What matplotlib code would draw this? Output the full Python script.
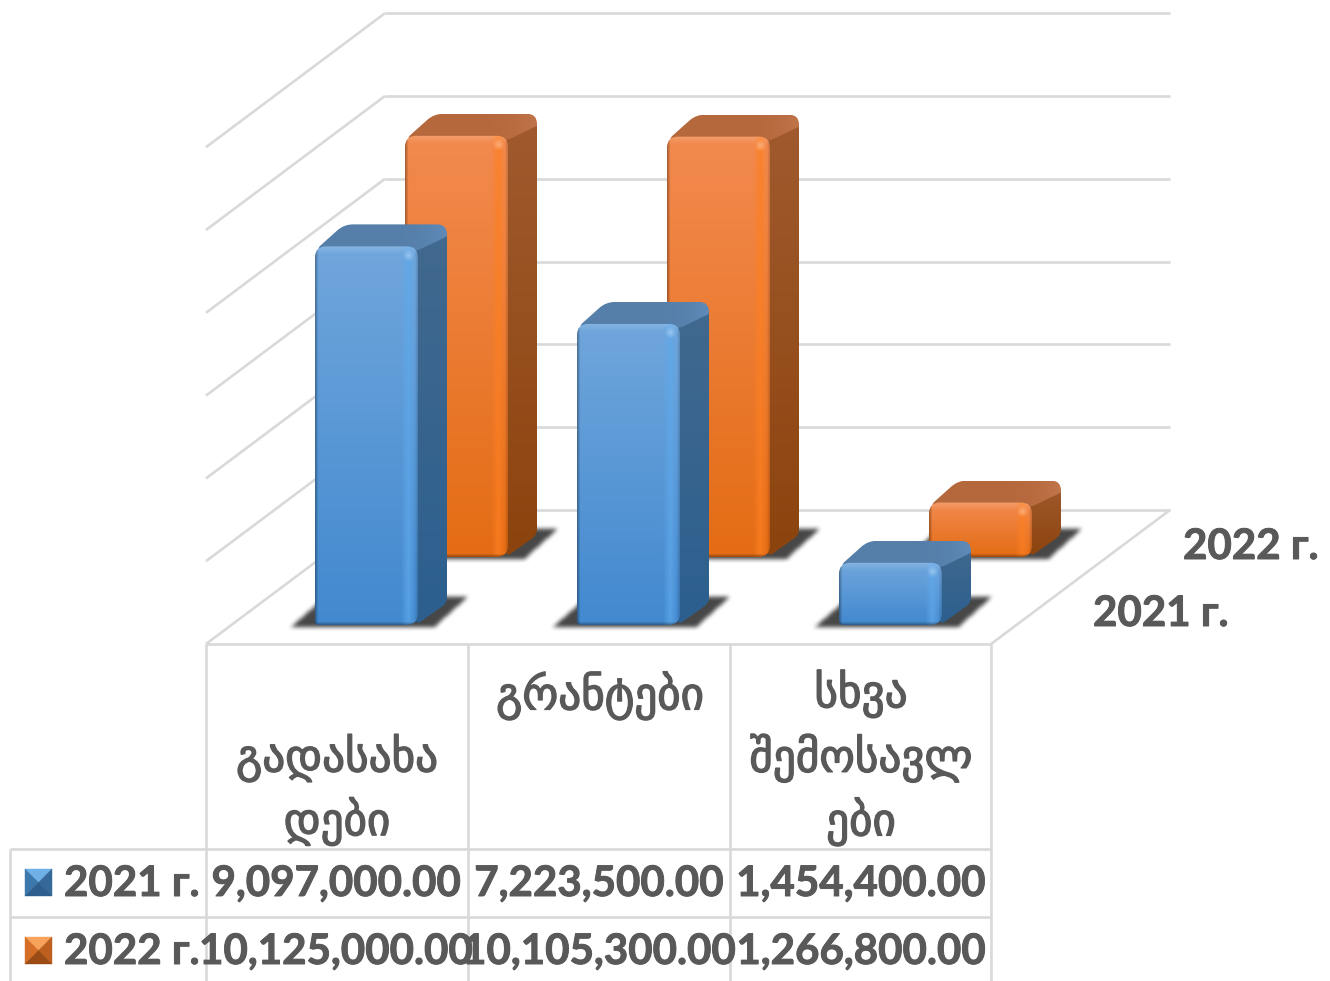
import numpy as np
import matplotlib
matplotlib.use("Agg")
import matplotlib.pyplot as plt
import matplotlib.patheffects as pe
from matplotlib.path import Path
from matplotlib.patches import PathPatch, Polygon

categories = ["გადასახა\nდები", "გრანტები", "სხვა\nშემოსავლ\nები"]
series_names = ["2021 г.", "2022 г."]
values_2021 = [9097000.00, 7223500.00, 1454400.00]
values_2022 = [10125000.00, 10105300.00, 1266800.00]
grid_ticks = [0, 2000000, 4000000, 6000000, 8000000, 10000000, 12000000]

W, H = 1330, 981
PX_PER_UNIT = 4.14e-5
BASE_PX = 625
GRID = "#d9d9d9"
TEXT = "#595959"
NUM_FONT = ["Lato", "Open Sans", "DejaVu Sans"]
NUM_SIZE = 30.3
THICK = [pe.withStroke(linewidth=0.7, foreground=TEXT)]
THICK_GEO = [pe.withStroke(linewidth=1.0, foreground=TEXT)]

BLUE = dict(top="#70a6dc", bottom="#4289cf", hi="#5ea8ea", side_top="#42698f", side_bottom="#2c5f8e",
            cap="#557ea9", cap_hi="#5f8ab8", key=["#6fb0e8", "#3d78ad", "#35699a", "#2e5f8c"])
ORANGE = dict(top="#f28a4f", bottom="#e46c14", hi="#fd7f22", side_top="#a05a2e", side_bottom="#8c440e",
              cap="#b5683c", cap_hi="#c0744a", key=["#f7a35c", "#d56f28", "#bd5f1e", "#9a4c14"])

fig = plt.figure(figsize=(W / 100, H / 100), dpi=100, facecolor="white")
ax = fig.add_axes([0, 0, 1, 1])
ax.set_xlim(0, W)
ax.set_ylim(-(H - BASE_PX) / PX_PER_UNIT, BASE_PX / PX_PER_UNIT)
ax.axis("off")


def to_y(px):
    return (BASE_PX - px) / PX_PER_UNIT


def hex_rgb(c):
    return np.array(matplotlib.colors.to_rgb(c))


def rounded_path(pts, radii):
    # pts are pixel corners, the corners get cut with a quadratic curve
    pts = [np.array(p, dtype=float) for p in pts]
    verts, codes = [], []
    n = len(pts)
    for i in range(n):
        p, a, b = pts[i], pts[i - 1], pts[(i + 1) % n]
        r = radii[i]
        d1 = (a - p) / np.linalg.norm(a - p)
        d2 = (b - p) / np.linalg.norm(b - p)
        p1, p2 = p + d1 * r, p + d2 * r
        verts.append(p1)
        codes.append(Path.MOVETO if i == 0 else Path.LINETO)
        verts += [p, p2]
        codes += [Path.CURVE3, Path.CURVE3]
    verts.append(verts[0])
    codes.append(Path.CLOSEPOLY)
    verts = np.array(verts)
    verts[:, 1] = to_y(verts[:, 1])
    return Path(verts, codes)


def shaded(path, img, box, z):
    # box is x0, x1, top px, bottom px
    im = ax.imshow(img, extent=(box[0], box[1], to_y(box[3]), to_y(box[2])), origin="upper",
                   aspect="auto", zorder=z, interpolation="bilinear")
    patch = PathPatch(path, transform=ax.transData, facecolor="none", edgecolor="none", zorder=z)
    ax.add_patch(patch)
    im.set_clip_path(patch)


def draw_shadow(x0, base, z):
    pts = [(x0 - 24, base + 2), (x0 + 3, base - 22), (x0 + 130, base - 29), (x0 + 154, base - 29), (x0 + 120, base + 2)]
    xs = np.arange(x0 - 45, x0 + 180)
    ys = np.arange(base - 50, base + 14)
    gx, gy = np.meshgrid(xs, ys)
    mask = Path(pts).contains_points(np.c_[gx.ravel(), gy.ravel()]).reshape(gx.shape).astype(float)
    kernel = np.ones(5) / 5
    for _ in range(2):
        mask = np.apply_along_axis(lambda r: np.convolve(r, kernel, mode="same"), 0, mask)
        mask = np.apply_along_axis(lambda r: np.convolve(r, kernel, mode="same"), 1, mask)
    rgba = np.zeros(gx.shape + (4,))
    rgba[..., :3] = 0.24
    rgba[..., 3] = mask * 0.95
    ax.imshow(rgba, extent=(xs[0], xs[-1], to_y(ys[-1]), to_y(ys[0])), origin="upper", aspect="auto", zorder=z,
              interpolation="bilinear")


def draw_bar(x0, base, value, col, z, width=103, dx=29, dy=22):
    height = value * PX_PER_UNIT + 2
    top = base - height
    x1 = x0 + width
    draw_shadow(x0, base, z)

    # side
    t = np.linspace(0, 1, 40)[:, None, None]
    img = hex_rgb(col["side_top"]) * (1 - t) + hex_rgb(col["side_bottom"]) * t
    path = rounded_path([(x1 - 2, top), (x1 + dx, top - dy), (x1 + dx, base - dy), (x1 - 2, base)], [2, 14, 6, 6])
    shaded(path, img, (x1 - 2, x1 + dx, top - dy, base), z + 0.1)

    # cap
    t = np.linspace(0, 1, 30)[None, :, None]
    img = hex_rgb(col["cap"]) * (1 - t ** 6) + hex_rgb(col["cap_hi"]) * t ** 6
    path = rounded_path([(x0, top + 4), (x0 + dx, top - dy), (x1 + dx, top - dy), (x1 + dx, top - dy + 12), (x1, top + 4)],
                        [8, 9, 10, 2, 3])
    shaded(path, img, (x0, x1 + dx, top - dy, top + 5), z + 0.2)

    # front, vertical fade with a bright band near the right edge
    ny, nx = max(int(height), 20), 103
    v = np.linspace(0, 1, ny)[:, None, None]
    img = np.repeat(hex_rgb(col["top"]) * (1 - v) + hex_rgb(col["bottom"]) * v, nx, axis=1)
    u = np.linspace(0, 1, nx)
    band = np.clip(1 - np.abs(u - 0.91) / 0.07, 0, 1)[None, :, None]
    img = img * (1 - band * 0.75) + hex_rgb(col["hi"]) * band * 0.75
    edge = np.clip(1 - u / 0.03, 0, 1) * 0.3 + np.clip((u - 0.975) / 0.025, 0, 1) * 0.15
    img = img * (1 - edge[None, :, None])
    bev = np.linspace(0, height, ny)
    shine = np.clip(1 - bev / 8, 0, 1)[:, None, None] * 0.16
    img = img * (1 - shine) + shine
    # small glint at the top right corner
    gx, gy = np.meshgrid(u * width, bev)
    glint = np.clip(1 - np.hypot(gx - 94, gy - 9) / 6, 0, 1)[:, :, None] * 0.35
    img = img * (1 - glint) + glint
    dark = np.clip(1 - (height - bev) / 3, 0, 1)[:, None, None] * 0.3
    img = img * (1 - dark)
    path = rounded_path([(x0, top), (x1, top), (x1, base), (x0, base)], [11, 11, 12, 4])
    shaded(path, img, (x0, x1, top, base), z + 0.3)


def draw_key(x, y, col):
    s = 27
    c = (x + s / 2, y + s / 2)
    faces = [[(x, y), (x + s, y), c], [(x, y), c, (x, y + s)], [(x + s, y), c, (x + s, y + s)],
             [(x, y + s), (x + s, y + s), c]]
    for face, fc in zip(faces, col["key"]):
        xy = [(p[0], to_y(p[1])) for p in face]
        ax.add_patch(Polygon(xy, closed=True, facecolor=fc, edgecolor=fc, lw=0.3, zorder=5))


def hline(x0, x1, y0, y1):
    ax.plot([x0, x1], [to_y(y0), to_y(y1)], color=GRID, lw=1.9, zorder=1, solid_capstyle="butt")


# walls
for tick in grid_ticks[1:]:
    shift = tick * PX_PER_UNIT
    hline(206, 385, 644 - shift, 510 - shift)
    hline(385, 1170, 510 - shift, 510 - shift)

# floor
hline(385, 1170, 510, 510)
hline(206, 385, 644, 510)
hline(206, 991, 644, 644)
hline(991, 1170, 644, 510)

# data table
for x in [206, 468, 730, 991]:
    hline(x, x, 644, H)
hline(10, 10, 849, H)
hline(10, 991, 849, 849)
hline(10, 991, 917, 917)

# bars, back row first
for i, v in enumerate(values_2022):
    draw_bar(405 + 262 * i, 557, v, ORANGE, 2 + 0.5 * i)
for i, v in enumerate(values_2021):
    draw_bar(315 + 262 * i, BASE_PX, v, BLUE, 4 + 0.5 * i)

# category labels, the cells do not align them the same way
cat_x = [337, 600, 861]
cat_y = [790, 696, 758]
for label, x, y in zip(categories, cat_x, cat_y):
    ax.text(x, to_y(y), label, ha="center", va="center", fontsize=32.5, color=TEXT, family="DejaVu Sans",
            linespacing=1.41, zorder=6, path_effects=THICK_GEO)

# table rows
row_y = [884, 952]
for row, vals, col, name in zip(row_y, [values_2021, values_2022], [BLUE, ORANGE], series_names):
    draw_key(25, row - 15, col)
    ax.text(64, to_y(row), name, ha="left", va="center", fontsize=NUM_SIZE, fontweight="bold", color=TEXT,
            family=NUM_FONT, zorder=6, path_effects=THICK)
    for x, v in zip([336, 599, 861], vals):
        ax.text(x, to_y(row), f"{v:,.2f}", ha="center", va="center", fontsize=NUM_SIZE, fontweight="bold", color=TEXT,
                family=NUM_FONT, zorder=6, path_effects=THICK)

# depth axis labels
ax.text(1183, to_y(547), series_names[1], ha="left", va="center", fontsize=NUM_SIZE, fontweight="bold", color=TEXT,
        family=NUM_FONT, path_effects=THICK)
ax.text(1093, to_y(614), series_names[0], ha="left", va="center", fontsize=NUM_SIZE, fontweight="bold", color=TEXT,
        family=NUM_FONT, path_effects=THICK)

ax.set_xlim(0, W)
ax.set_ylim(-(H - BASE_PX) / PX_PER_UNIT, BASE_PX / PX_PER_UNIT)
fig.savefig("out.png", dpi=100)
